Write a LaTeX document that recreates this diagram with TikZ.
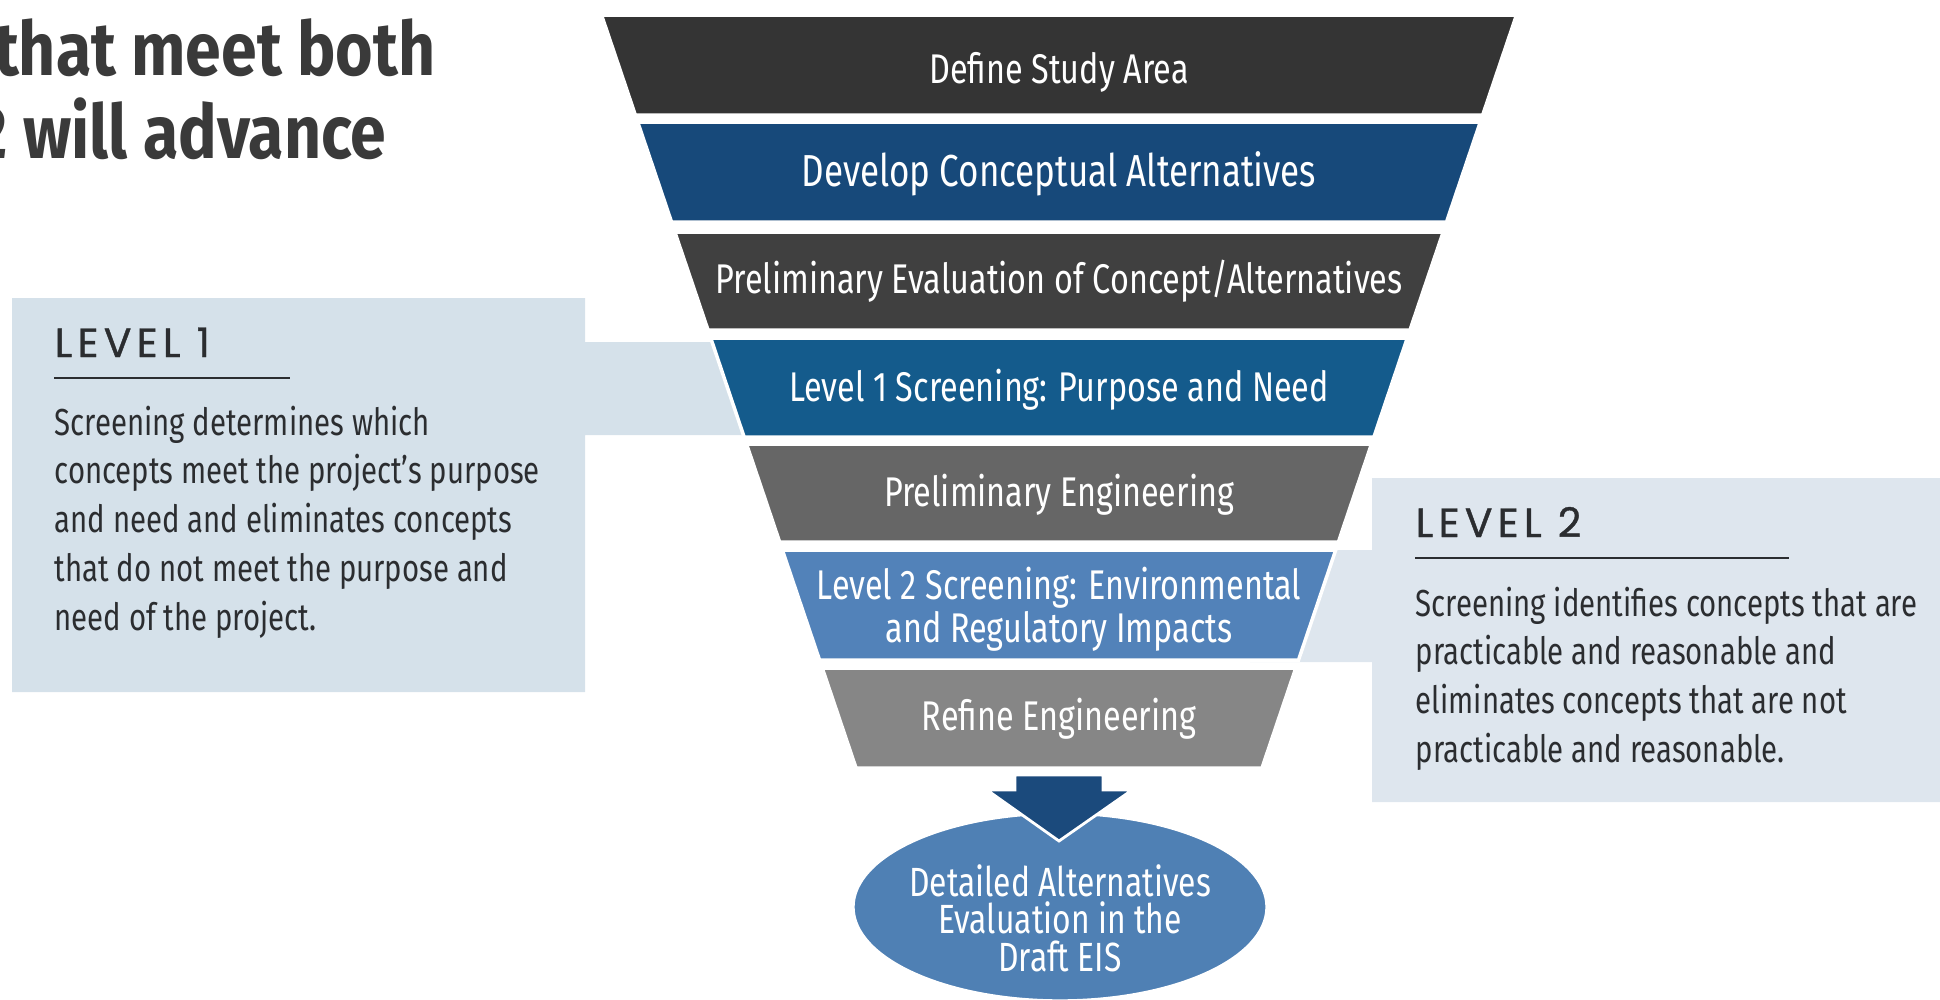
\documentclass[tikz,border=0pt]{standalone}
\usepackage{fontspec}
\usepackage{tikz}
\usetikzlibrary{positioning,shapes.geometric,calc}
\setmainfont{Fira Sans}
\newfontfamily\estrecha[FakeStretch=0.78]{Fira Sans}
\newfontfamily\titulares[FakeStretch=0.86]{Fira Sans}
\newfontfamily\niveles[LetterSpace=13,FakeBold=1]{Poppins}
\definecolor{carbon}{RGB}{52,52,52}
\definecolor{marino}{RGB}{23,73,122}
\definecolor{grafito}{RGB}{64,64,64}
\definecolor{oceano}{RGB}{20,91,140}
\definecolor{acero}{RGB}{102,102,102}
\definecolor{celeste}{RGB}{82,130,185}
\definecolor{plata}{RGB}{134,134,134}
\definecolor{azulFlecha}{RGB}{27,74,124}
\definecolor{azulElipse}{RGB}{79,128,180}
\definecolor{caja1}{RGB}{213,225,234}
\definecolor{caja2}{RGB}{222,230,238}
\definecolor{tinta}{RGB}{43,45,48}
\definecolor{grisTitulo}{RGB}{58,58,58}

\begin{document}
\begin{tikzpicture}[x=0.01cm, y=-0.01cm,
    banda/.style={draw=white, line width=1pt},
    rotulo/.style={text=white, inner sep=0pt, align=center,
                   font=\estrecha\fontsize{11.8}{10.8}\selectfont},
    nivel/.style={anchor=base west, inner sep=0pt, text=tinta,
                  font=\niveles\fontsize{11.6}{13}\selectfont},
    cuerpo/.style={anchor=north west, inner sep=0pt, align=left, text=tinta,
                   font=\estrecha\fontsize{10.7}{13.9}\selectfont},
    titular/.style={anchor=base east, inner sep=0pt, text=grisTitulo,
                    font=\titulares\bfseries\fontsize{21.3}{24}\selectfont},
    elipse/.style={ellipse, fill=azulElipse, draw=white, line width=1pt,
                   minimum width=4.14cm, minimum height=1.88cm, inner sep=0pt},
    raya/.style={draw=tinta, line width=0.6pt}]
  \useasboundingbox (0,0) rectangle (1940,999);

  % cajas de nivel con su pestana
  \fill[caja1] (12,298) -- (585,298) -- (585,342) -- (800,342) -- (800,435)
    -- (585,435) -- (585,692) -- (12,692) -- cycle;
  \fill[caja2] (1372,478) -- (1950,478) -- (1950,802) -- (1372,802)
    -- (1372,662) -- (1250,662) -- (1250,550) -- (1372,550) -- cycle;

  % embudo
  \filldraw[banda, fill=carbon]  (601.5,15) -- (1516.5,15) -- (1482.7,115) -- (635.3,115) -- cycle;
  \filldraw[banda, fill=marino]  (637.7,122) -- (1480.3,122) -- (1446.5,222) -- (671.5,222) -- cycle;
  \filldraw[banda, fill=grafito] (674.8,232) -- (1443.2,232) -- (1410,330) -- (708,330) -- cycle;
  \filldraw[banda, fill=oceano]  (710.7,338) -- (1407.3,338) -- (1373.9,437) -- (744.1,437) -- cycle;
  \filldraw[banda, fill=acero]   (746.5,444) -- (1371.5,444) -- (1338.4,542) -- (779.6,542) -- cycle;
  \filldraw[banda, fill=celeste] (782.3,550) -- (1335.7,550) -- (1298.5,660) -- (819.5,660) -- cycle;
  \filldraw[banda, fill=plata]   (822.2,668) -- (1295.8,668) -- (1262,768) -- (856,768) -- cycle;

  \node[rotulo, anchor=base] (b1) at (1059,83) {Define Study Area};
  \node[rotulo, anchor=base, font=\estrecha\fontsize{12.75}{13}\selectfont] (b2) at (1059,186) {Develop Conceptual Alternatives};
  \node[rotulo, anchor=base] (b3) at (1059,293) {Preliminary Evaluation of Concept/Alternatives};
  \node[rotulo, anchor=base] (b4) at (1059,401) {Level 1 Screening: Purpose and Need};
  \node[rotulo, anchor=base] (b5) at (1059,506) {Preliminary Engineering};
  \node[rotulo, anchor=north] (b6) at (1059,566) {Level 2 Screening: Environmental\\and Regulatory Impacts};
  \node[rotulo, anchor=base] (b7) at (1059,730) {Refine Engineering};

  % resultado
  \node[elipse] (eis) at (1060,907) {};
  \filldraw[fill=azulFlecha, draw=white, line width=0.8pt]
    (1015,775) -- (1103,775) -- (1103,790) -- (1132,790) -- (1059,841)
    -- (987,790) -- (1015,790) -- cycle;
  \node[rotulo, anchor=north, font=\estrecha\fontsize{11.6}{10.6}\selectfont] (eistxt) at (1060,864)
    {Detailed Alternatives\\Evaluation in the\\Draft EIS};

  % textos de nivel
  \node[nivel] (n1) at (54,357) {LEVEL 1};
  \draw[raya] (54,378) -- (290,378);
  \node[cuerpo] (t1) at (54,405) {Screening determines which\\concepts meet the project’s purpose\\and need and eliminates concepts\\that do not meet the purpose and\\need of the project.};
  \node[nivel] (n2) at (1415,537) {LEVEL 2};
  \draw[raya] (1415,558) -- (1789,558);
  \node[cuerpo] (t2) at (1415,586) {Screening identifies concepts that are\\practicable and reasonable and\\eliminates concepts that are not\\practicable and reasonable.};

  % titular recortado
  \node[titular] (h1) at (436,75) {that meet both};
  \node[titular] (h2) at (387,158) {2 will advance};
\end{tikzpicture}
\end{document}
